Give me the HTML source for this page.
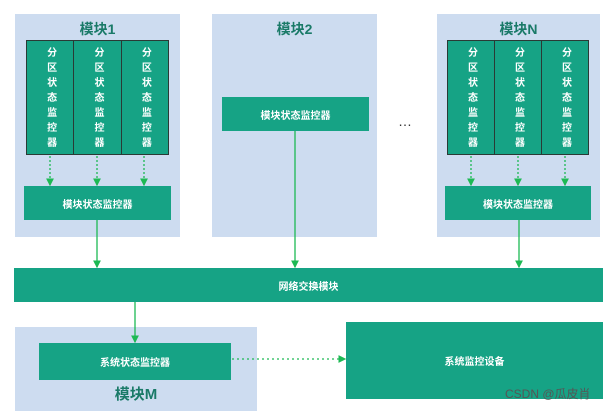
<!DOCTYPE html>
<html><head><meta charset="utf-8"><style>
body{margin:0;width:616px;height:411px;background:#fff;position:relative;overflow:hidden;font-family:"Liberation Sans","Noto Sans CJK SC",sans-serif}
.a{position:absolute;box-sizing:border-box}
.bg{background:#cddcf0}
.g{background:#16a385;color:#fff;font-size:10px;font-weight:bold;display:flex;align-items:center;justify-content:center}
.t{color:#1a7a68;font-size:14px;font-weight:bold;text-align:center}
.p{border:1px solid #2a3a35;display:flex}
.p div{flex:1;border-right:1px solid #2a3a35;writing-mode:vertical-rl;text-orientation:upright;display:flex;align-items:center;justify-content:center;letter-spacing:5px;font-size:10px;font-weight:bold;color:#fff;background:#16a385;padding-top:4px}
.p div:last-child{border-right:none}
</style></head><body>
<div class="a bg" style="left:15px;top:14px;width:165px;height:223px"></div>
<div class="a t" style="left:15px;top:19px;width:165px">模块1</div>
<div class="a p" style="left:26px;top:40px;width:143px;height:115px"><div>分区状态监控器</div><div>分区状态监控器</div><div>分区状态监控器</div></div>
<div class="a g" style="left:24px;top:186px;width:147px;height:34px">模块状态监控器</div>

<div class="a bg" style="left:212px;top:14px;width:165px;height:223px"></div>
<div class="a t" style="left:212px;top:19px;width:165px">模块2</div>
<div class="a g" style="left:222px;top:97px;width:147px;height:34px">模块状态监控器</div>

<div class="a" style="left:398px;top:113px;font-size:14px;color:#333">…</div>

<div class="a bg" style="left:437px;top:14px;width:163px;height:223px"></div>
<div class="a t" style="left:437px;top:19px;width:163px">模块N</div>
<div class="a p" style="left:447px;top:40px;width:142px;height:115px"><div>分区状态监控器</div><div>分区状态监控器</div><div>分区状态监控器</div></div>
<div class="a g" style="left:445px;top:186px;width:146px;height:34px">模块状态监控器</div>

<div class="a g" style="left:14px;top:268px;width:589px;height:34px">网络交换模块</div>

<div class="a bg" style="left:15px;top:327px;width:242px;height:84px"></div>
<div class="a g" style="left:39px;top:343px;width:192px;height:37px">系统状态监控器</div>
<div class="a t" style="left:15px;top:383px;width:242px;font-size:15px">模块M</div>
<div class="a g" style="left:346px;top:322px;width:257px;height:77px">系统监控设备</div>
<div class="a" style="left:505px;top:385px;font-size:12px;color:#555">CSDN @瓜皮肖</div>

<svg class="a" style="left:0;top:0" width="616" height="411">
<defs><marker id="m" markerWidth="6" markerHeight="6" refX="5" refY="3" orient="auto"><path d="M0,0L6,3L0,6z" fill="#1db954"/></marker></defs>
<g stroke="#1db954" stroke-width="1.3" fill="none" marker-end="url(#m)">
<path d="M50 156V185" stroke-dasharray="2 2"/><path d="M97 156V185" stroke-dasharray="2 2"/><path d="M144 156V185" stroke-dasharray="2 2"/>
<path d="M471 156V185" stroke-dasharray="2 2"/><path d="M518 156V185" stroke-dasharray="2 2"/><path d="M565 156V185" stroke-dasharray="2 2"/>
<path d="M97 220V267"/><path d="M295 131V267"/><path d="M519 220V267"/>
<path d="M135 302V342"/>
<path d="M232 359H345" stroke-dasharray="2 3"/>
</g></svg>
</body></html>
